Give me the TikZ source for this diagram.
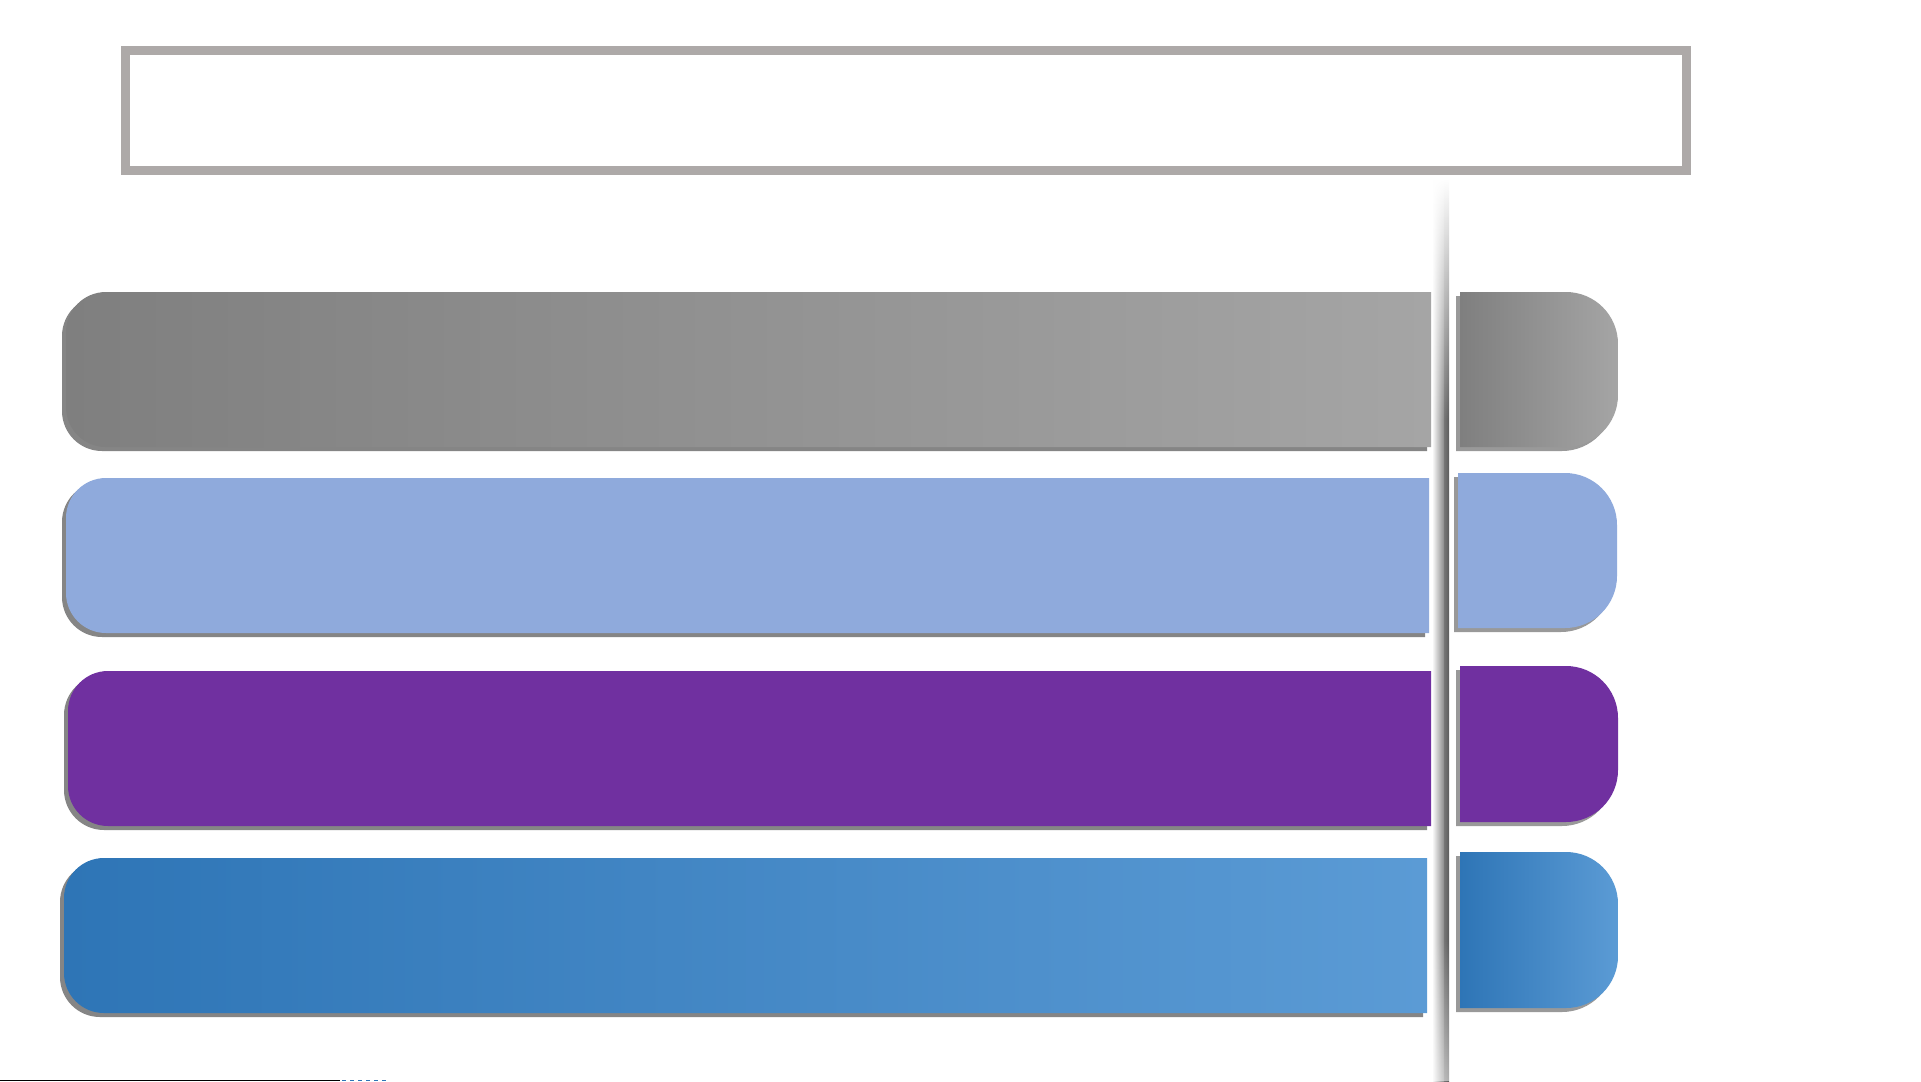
\documentclass[tikz,border=0pt]{standalone}
\usetikzlibrary{fadings}
\definecolor{framegray}{HTML}{ADA9A8}
\definecolor{shadowc}{HTML}{858585}
\definecolor{tabshadow}{HTML}{999999}
\definecolor{greyA}{HTML}{7F7F7F}
\definecolor{greyB}{HTML}{A5A5A5}
\definecolor{lightblue}{HTML}{8FAADC}
\definecolor{purpleC}{HTML}{7030A0}
\definecolor{blueA}{HTML}{2E75B6}
\definecolor{blueB}{HTML}{5B9BD5}
\definecolor{sepmid}{HTML}{8A8A8A}
\definecolor{sepcoreA}{HTML}{767676}
\definecolor{sepcoreB}{HTML}{5C5C5C}
\tikzfading[name=fadetop, top color=transparent!0, bottom color=transparent!100]
\tikzfading[name=fadebot, top color=transparent!100, bottom color=transparent!0]
\tikzset{
  greybody/.style={left color=greyA, right color=greyB},
  lbbody/.style={fill=lightblue},
  purplebody/.style={fill=purpleC},
  bluebody/.style={left color=blueA, right color=blueB},
  framebox/.style={draw=framegray, line width=9pt},
}
% bar with rounded left corners: x1 y1 x2 y2 style
\newcommand\lbar[5]{%
  \fill[shadowc, rounded corners=40pt] ({#1-4},{#2+4}) rectangle ({#3-4},{#4+4})
     [sharp corners] ({#1+38},{#2+4}) rectangle ({#3-4},{#4+4});
  \path[#5, rounded corners=40pt] (#1,#2) rectangle (#3,#4)
     [sharp corners] ({#1+42},#2) rectangle (#3,#4);
}
% tab with rounded right corners
\newcommand\rtab[5]{%
  \fill[tabshadow, rounded corners=52pt] ({#1-4},{#2+4}) rectangle ({#3-4},{#4+4})
     [sharp corners] ({#1-4},{#2+4}) rectangle ({#3-60},{#4+4});
  \path[#5, rounded corners=52pt] (#1,#2) rectangle (#3,#4)
     [sharp corners] (#1,#2) rectangle ({#3-56},#4);
}
\begin{document}
\begin{tikzpicture}[x=1pt,y=-1pt]
\useasboundingbox (0,0) rectangle (1921,1081);
\fill[white] (0,0) rectangle (1921,1081);
% title frame
\draw[framebox] (125.5,50.5) rectangle (1686.5,170.5);
% separator
\shade[left color=white, right color=sepmid] (1432,180) rectangle (1444,1081);
\shade[left color=sepcoreA, right color=sepcoreB] (1444,180) rectangle (1449,1081);
\fill[white, path fading=fadetop] (1428,179) rectangle (1452,420);
\fill[white, fill opacity=0.5, path fading=fadebot] (1428,940) rectangle (1452,1081);
% bars
\lbar{66}{292}{1431}{447}{greybody}
\lbar{66}{478}{1429}{633}{lbbody}
\lbar{68}{671}{1431}{826}{purplebody}
\lbar{64}{858}{1427}{1013}{bluebody}
% tabs
\rtab{1460}{292}{1618}{447}{greybody}
\rtab{1458}{473}{1617}{628}{lbbody}
\rtab{1460}{666}{1618}{822}{purplebody}
\rtab{1460}{852}{1618}{1008}{bluebody}
% bottom-left line
\draw[black, line width=1.2pt] (0,1080.4) -- (340,1080.4);
\draw[blueA, line width=1.2pt, dash pattern=on 4pt off 4pt] (342,1080.4) -- (387,1080.4);
\end{tikzpicture}
\end{document}
